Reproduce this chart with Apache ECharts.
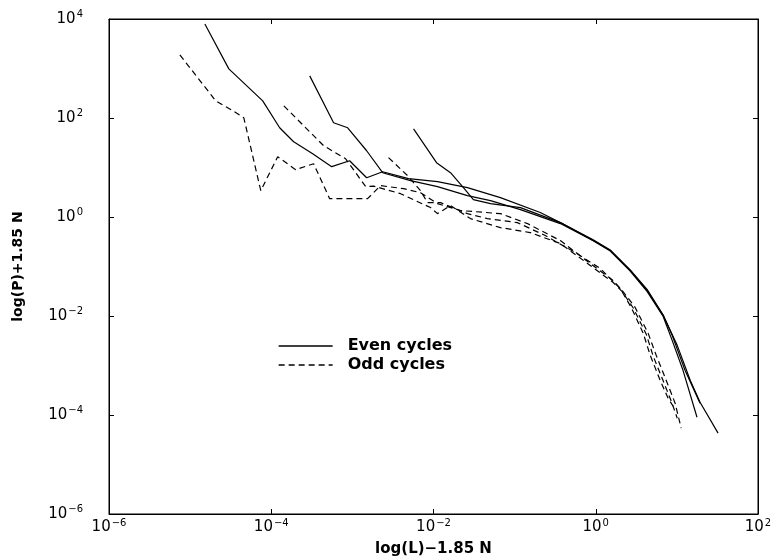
<!DOCTYPE html>
<html>
<head>
<meta charset="utf-8">
<script src="https://cdn.jsdelivr.net/npm/echarts@6/dist/echarts.min.js"></script>
<style>
html,body{margin:0;padding:0;background:#fff;}
#chart{width:773px;height:558px;}
</style>
</head>
<body>
<div id="chart"></div>
<script>
// Tick positions and their exponent labels
const xTicks = [1e-6, 1e-4, 1e-2, 1, 1e2];
const xTickExp = ['\u22126', '\u22124', '\u22122', '0', '2'];
const yTicks = [1e-6, 1e-4, 1e-2, 1, 1e2, 1e4];
const yTickExp = ['\u22126', '\u22124', '\u22122', '0', '2', '4'];

const seriesNames = ['Even cycles', 'Odd cycles'];

// Even cycles (solid) — [L, P] pairs
const even1 = [
  [1.52e-5, 7900], [3.0e-5, 982], [7.85e-5, 222], [1.27e-4, 63.4], [1.89e-4, 33.1],
  [3.24e-4, 19.0], [5.56e-4, 10.4], [9.25e-4, 13.7], [1.5e-3, 6.22], [2.36e-3, 8.22],
  [4.92e-3, 5.94], [1.12e-2, 5.18], [2.62e-2, 3.92], [6.68e-2, 2.46], [0.207, 1.23],
  [0.387, 0.736], [0.93, 0.334], [1.51, 0.210], [2.66, 0.083], [4.31, 0.0328],
  [6.78, 0.0103], [10.1, 0.00255], [14.6, 5.04e-4], [19.3, 1.81e-4], [32.2, 4.30e-5]
];
const even2 = [
  [2.98e-4, 710], [5.87e-4, 80.0], [8.75e-4, 63.4], [1.5e-3, 21.8], [2.36e-3, 7.85],
  [5.21e-3, 5.42], [1.12e-2, 4.10], [2.62e-2, 2.70], [5.04e-2, 2.14], [0.118, 1.41],
  [0.366, 0.736], [0.93, 0.330], [1.51, 0.205], [2.66, 0.081], [4.31, 0.031],
  [6.78, 0.0098], [8.75, 0.00322], [11.9, 8.0e-4], [17.7, 9.0e-5]
];
const even3 = [
  [5.68e-3, 60.5], [1.09e-2, 12.5], [1.62e-2, 7.85], [2.34e-2, 3.92], [3.10e-2, 2.24],
  [5.04e-2, 1.86], [0.118, 1.55], [0.366, 0.771], [0.93, 0.345], [1.51, 0.215],
  [2.66, 0.085], [4.31, 0.034], [6.78, 0.0105], [8.75, 0.00406], [12.6, 8.0e-4],
  [19.3, 1.73e-4]
];

// Odd cycles (dashed)
const odd1 = [
  [7.48e-6, 1880], [2.07e-5, 222], [3.36e-5, 140], [4.59e-5, 101], [7.43e-5, 3.40],
  [1.20e-4, 16.5], [2.00e-4, 9.04], [3.33e-4, 11.9], [5.25e-4, 2.35], [9.51e-4, 2.35],
  [1.54e-3, 2.35], [2.23e-3, 4.30], [4.28e-3, 3.74], [6.92e-3, 3.10], [1.12e-2, 1.86],
  [2.15e-2, 1.35], [6.68e-2, 1.17], [0.144, 0.736], [0.366, 0.334], [0.855, 0.115],
  [1.64, 0.0522], [2.12, 0.0328], [3.06, 0.0149], [4.43, 0.00446], [5.56, 0.00161],
  [7.38, 5.04e-4], [9.51, 1.73e-4], [11.3, 5.42e-5]
];
const odd2 = [
  [1.43e-4, 176], [2.51e-4, 69.7], [4.43e-4, 27.5], [8.26e-4, 15.0], [1.46e-3, 4.10],
  [1.83e-3, 4.2], [3.93e-3, 2.96], [9.18e-3, 1.55], [1.12e-2, 1.17], [1.62e-2, 1.70],
  [2.85e-2, 0.929], [6.68e-2, 0.611], [0.156, 0.484], [0.366, 0.291], [0.855, 0.105],
  [1.64, 0.0475], [2.12, 0.031], [2.90, 0.0145], [4.19, 0.0043], [5.10, 0.00155],
  [6.78, 4.9e-4], [8.75, 1.7e-4], [10.1, 8.61e-5]
];
const odd3 = [
  [2.79e-3, 15.8], [4.79e-3, 6.84], [6.92e-3, 3.40], [8.43e-3, 1.95], [1.22e-2, 1.95],
  [2.62e-2, 1.17], [4.62e-2, 0.929], [0.108, 0.771], [0.239, 0.422], [0.560, 0.191],
  [1.135, 0.0912], [2.00, 0.0360], [2.74, 0.0149], [3.85, 0.00446], [4.69, 0.00161],
  [6.22, 5.04e-4], [7.80, 2.18e-4], [8.99, 1.50e-4]
];

const FONT = 'DejaVu Sans';
const rich = {
  b: { fontFamily: FONT, fontSize: 15, color: '#000' },
  s: { fontFamily: FONT, fontSize: 10, color: '#000', padding: [0, 0, 9, 1] }
};
function makeFormatter(ticks, exps) {
  return function (v) {
    let idx = 0, best = Infinity;
    for (let i = 0; i < ticks.length; i++) {
      const d = Math.abs(Math.log10(v) - Math.log10(ticks[i]));
      if (d < best) { best = d; idx = i; }
    }
    return '{b|10}{s|' + exps[idx] + '}';
  };
}

function logAxis(ticks, exps, pos, showLabel, extra) {
  return Object.assign({
    type: 'log', logBase: 10, min: ticks[0], max: ticks[ticks.length - 1],
    position: pos,
    axisLine: { show: true, onZero: false, lineStyle: { color: '#000', width: 1 } },
    axisTick: { show: true, inside: true, length: 5, customValues: ticks, lineStyle: { color: '#000' } },
    minorTick: { show: false },
    splitLine: { show: false },
    axisLabel: showLabel ? {
      show: true, customValues: ticks, formatter: makeFormatter(ticks, exps), rich: rich
    } : { show: false }
  }, extra || {});
}

function mk(name, data, dashed) {
  return {
    type: 'line', name: name, data: data, xAxisIndex: 0, yAxisIndex: 0,
    symbol: 'none', showSymbol: false, silent: true,
    itemStyle: { color: '#000' },
    lineStyle: { color: '#000', width: 1.2, type: dashed ? [6, 4] : 'solid' },
    z: 3
  };
}

const chart = echarts.init(document.getElementById('chart'), null, { renderer: 'canvas' });
chart.setOption({
  animation: false,
  backgroundColor: '#fff',
  grid: {
    left: 109, right: 15, top: 19, bottom: 44, show: true, borderColor: '#000', borderWidth: 1,
    containLabel: false, outerBoundsMode: 'none'
  },
  legend: {
    data: seriesNames, orient: 'vertical', left: 273, top: 333,
    itemWidth: 54, itemHeight: 14, itemGap: 3, selectedMode: false,
    itemStyle: { color: 'rgba(0,0,0,0)', borderColor: 'rgba(0,0,0,0)', borderWidth: 0 },
    lineStyle: { color: '#000', width: 1.3, opacity: 1 },
    textStyle: { fontFamily: FONT, fontSize: 16, fontWeight: 'bold', color: '#000', padding: [0, 0, 0, 10] }
  },
  xAxis: [
    logAxis(xTicks, xTickExp, 'bottom', true, {
      name: 'log(L)\u22121.85 N', nameLocation: 'middle', nameGap: 28,
      nameTextStyle: { fontFamily: FONT, fontSize: 15, fontWeight: 'bold', color: '#000' },
      axisLabel: { show: true, customValues: xTicks, formatter: makeFormatter(xTicks, xTickExp), rich: rich, margin: 4 }
    }),
    logAxis(xTicks, xTickExp, 'top', false)
  ],
  yAxis: [
    logAxis(yTicks, yTickExp, 'left', true, {
      name: 'log(P)+1.85 N', nameLocation: 'middle', nameGap: 84, nameRotate: 90,
      nameTextStyle: { fontFamily: FONT, fontSize: 14, fontWeight: 'bold', color: '#000' },
      axisLabel: { show: true, customValues: yTicks, formatter: makeFormatter(yTicks, yTickExp), rich: rich, margin: 26 }
    }),
    logAxis(yTicks, yTickExp, 'right', false)
  ],
  series: [
    mk(seriesNames[0], even1, false),
    mk(seriesNames[0], even2, false),
    mk(seriesNames[0], even3, false),
    mk(seriesNames[1], odd1, true),
    mk(seriesNames[1], odd2, true),
    mk(seriesNames[1], odd3, true)
  ]
});
</script>
</body>
</html>
